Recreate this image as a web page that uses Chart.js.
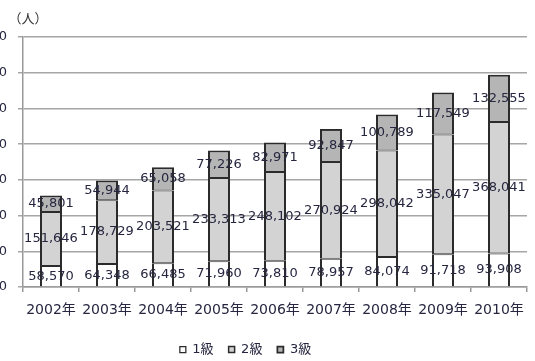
<!DOCTYPE html>
<html>
<head>
<meta charset="utf-8">
<script src="https://cdn.jsdelivr.net/npm/chart.js@4"></script>
<style>
html,body{margin:0;padding:0;background:#fff;overflow:hidden;}
#wrap{position:relative;width:535px;height:361px;}
</style>
</head>
<body>
<div id="wrap"><canvas id="c" width="535" height="361"></canvas></div>
<script>
const categories = ["2002年","2003年","2004年","2005年","2006年","2007年","2008年","2009年","2010年"];
const grade1 = [58570, 64348, 66485, 71960, 73810, 78957, 84074, 91718, 93908];
const grade2 = [151646, 178729, 203521, 233313, 248102, 270924, 298042, 335047, 368041];
const grade3 = [45801, 54944, 65058, 77226, 82971, 92847, 100789, 117549, 132555];
const seriesNames = ["1級", "2級", "3級"];
const unitLabel = "（人）";

const FONT = "'DejaVu Sans', 'Noto Sans CJK JP', sans-serif";
const fmt = v => Number(v).toLocaleString('en-US');

const dataLabels = {
  id: 'dataLabels',
  afterDatasetsDraw(chart) {
    const ctx = chart.ctx;
    ctx.save();
    ctx.font = "13px " + FONT;
    ctx.fillStyle = '#262640';
    ctx.textAlign = 'center';
    ctx.textBaseline = 'middle';
    chart.data.datasets.forEach((ds, i) => {
      const meta = chart.getDatasetMeta(i);
      meta.data.forEach((el, j) => {
        const y = (el.y + el.base) / 2;
        ctx.fillText(fmt(ds.data[j]), el.x, y);
      });
    });
    ctx.restore();
  }
};

const unitTitle = {
  id: 'unitTitle',
  afterDraw(chart) {
    const ctx = chart.ctx;
    ctx.save();
    ctx.font = "13px 'Noto Sans CJK JP', sans-serif";
    ctx.fillStyle = '#333';
    ctx.textAlign = 'center';
    ctx.textBaseline = 'middle';
    ctx.fillText(unitLabel, 28, 18);
    ctx.restore();
  }
};

const legendShift = {
  id: 'legendShift',
  afterLayout(chart) {
    if (chart.legend) {
      chart.legend.left -= 18;
      chart.legend.right -= 18;
      chart.legend.top += 5;
      chart.legend.bottom += 5;
    }
  }
};

const common = {borderColor: '#2b2b2b', borderSkipped: false, inflateAmount: 0};

new Chart(document.getElementById('c'), {
  type: 'bar',
  data: {
    labels: categories,
    datasets: [
      Object.assign({label: seriesNames[0], data: grade1, backgroundColor: '#ffffff', borderWidth: {left: 2, right: 2, top: 1, bottom: 0}}, common),
      Object.assign({label: seriesNames[1], data: grade2, backgroundColor: '#d3d3d3', borderWidth: {left: 2, right: 2, top: 1, bottom: 1}}, common),
      Object.assign({label: seriesNames[2], data: grade3, backgroundColor: '#b5b5b5', borderWidth: {left: 2, right: 2, top: 2, bottom: 1}}, common)
    ]
  },
  options: {
    responsive: false,
    animation: false,
    layout: {padding: {top: 37, right: 8, left: 0, bottom: 0}},
    datasets: {bar: {barThickness: 22}},
    scales: {
      x: {
        stacked: true,
        grid: {display: true, drawOnChartArea: false, drawTicks: true, tickLength: 5, color: '#999', lineWidth: 1.5},
        border: {display: true, color: '#999', width: 1.5},
        ticks: {font: {family: FONT, size: 14}, color: '#262640', padding: 10, maxRotation: 0, autoSkip: false},
        afterFit: s => { s.height = 36; }
      },
      y: {
        stacked: true,
        min: 0, max: 700000,
        grid: {color: '#a6a6a6', lineWidth: 1.5, tickLength: 5, drawTicks: true},
        border: {display: true, color: '#999', width: 1.5},
        ticks: {stepSize: 100000, font: {family: FONT, size: 13}, color: '#262640', padding: 11, callback: v => fmt(v)},
        afterFit: s => { s.width = 23; }
      }
    },
    plugins: {
      legend: {
        position: 'bottom',
        labels: {font: {family: FONT, size: 13}, color: '#262640', boxWidth: 6, boxHeight: 6, padding: 15}
      },
      title: {display: false},
      tooltip: {enabled: false}
    }
  },
  plugins: [dataLabels, unitTitle, legendShift]
});
</script>
</body>
</html>
